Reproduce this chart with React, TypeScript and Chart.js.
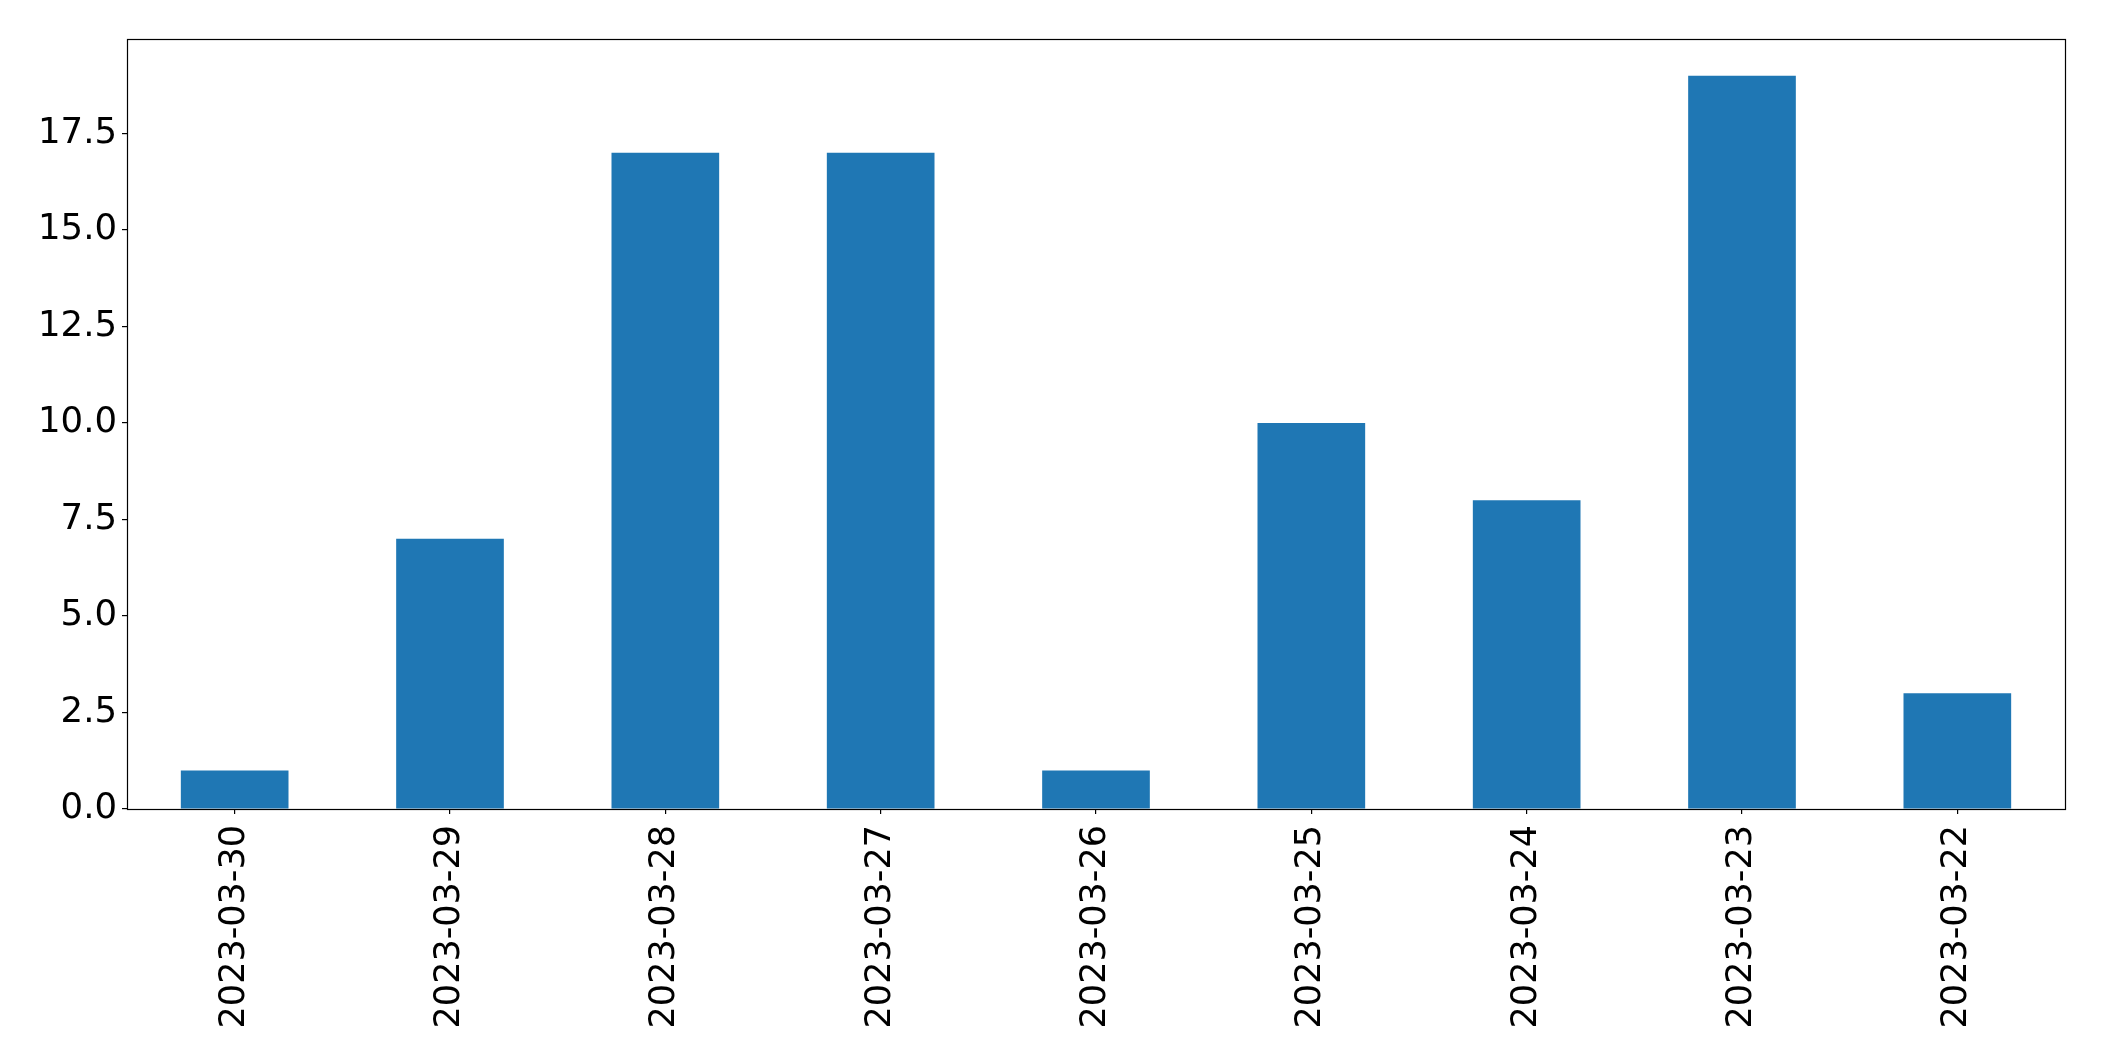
import React, { useEffect, useRef } from "react";
import { Chart, registerables } from "chart.js";

Chart.register(...registerables);

const categories = [
  "2023-03-30",
  "2023-03-29",
  "2023-03-28",
  "2023-03-27",
  "2023-03-26",
  "2023-03-25",
  "2023-03-24",
  "2023-03-23",
  "2023-03-22",
];
const counts = [1, 7, 17, 17, 1, 10, 8, 19, 3];
const yTicks = [0, 2.5, 5, 7.5, 10, 12.5, 15, 17.5];
const yMax = 19.95;

const W = 2104;
const H = 1061;

const framePlugin = {
  id: "frame",
  afterDraw(chart: any) {
    const { ctx, chartArea } = chart;
    ctx.save();
    ctx.strokeStyle = "#000";
    ctx.lineWidth = 1.2;
    ctx.strokeRect(
      Math.round(chartArea.left) + 0.5,
      Math.round(chartArea.top) + 0.5,
      Math.round(chartArea.right - chartArea.left),
      Math.round(chartArea.bottom - chartArea.top)
    );
    ctx.restore();
  },
};

export default function App() {
  const ref = useRef<HTMLCanvasElement | null>(null);
  useEffect(() => {
    if (!ref.current) return;
    const font = { family: "'DejaVu Sans', sans-serif", size: 35 };
    const chart = new Chart(ref.current, {
      type: "bar",
      data: {
        labels: categories,
        datasets: [
          {
            data: counts,
            backgroundColor: "#1f77b4",
            borderWidth: 0,
            barPercentage: 0.5,
            categoryPercentage: 1,
          },
        ],
      },
      options: {
        animation: false,
        responsive: false,
        devicePixelRatio: 1,
        layout: { padding: { top: 39, right: 39, left: 0, bottom: 0 } },
        plugins: {
          legend: { display: false },
          tooltip: { enabled: false },
        },
        scales: {
          x: {
            offset: true,
            grid: {
              display: true,
              drawOnChartArea: false,
              drawTicks: true,
              tickLength: 5,
              color: "#000",
              lineWidth: 1.2,
              offset: false,
            },
            border: { display: false },
            ticks: {
              color: "#000",
              font,
              minRotation: 90,
              maxRotation: 90,
              autoSkip: false,
              padding: 11,
            },
            afterFit(scale: any) {
              scale.height = H - 809;
            },
          },
          y: {
            min: 0,
            max: yMax,
            grid: {
              display: true,
              drawOnChartArea: false,
              drawTicks: true,
              tickLength: 5,
              color: "#000",
              lineWidth: 1.2,
            },
            border: { display: false },
            ticks: {
              color: "#000",
              font: { family: "'DejaVu Sans', sans-serif", size: 35.5 },
              padding: 5,
              callback: (v: any) => Number(v).toFixed(1),
            },
            afterBuildTicks(scale: any) {
              scale.ticks = yTicks.map((v) => ({ value: v }));
            },
            afterFit(scale: any) {
              scale.width = 127;
            },
          },
        },
      },
      plugins: [framePlugin],
    });
    return () => chart.destroy();
  }, []);
  return (
    <div style={{ position: "absolute", left: 0, top: 0, width: W, height: H, background: "#fff" }}>
      <canvas ref={ref} width={W} height={H} style={{ display: "block", width: W, height: H }} />
    </div>
  );
}
